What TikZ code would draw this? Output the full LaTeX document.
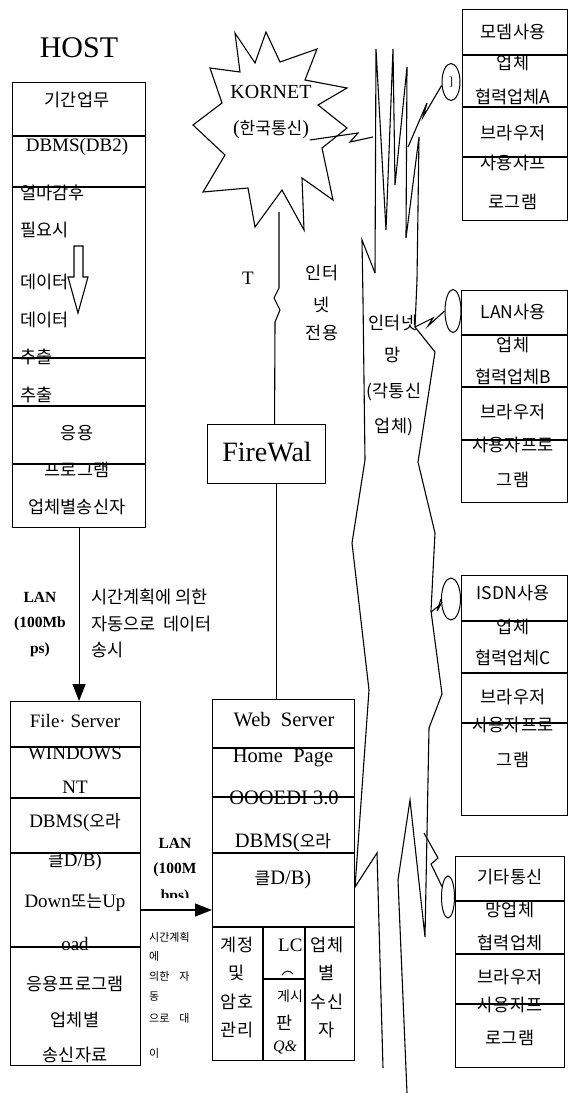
\documentclass[tikz,border=0pt]{standalone}
\usepackage{fontspec}
\setmainfont{Liberation Serif}
\newfontfamily\krf{Noto Sans CJK KR}
\newcommand\K[1]{{\krf\fontsize{17}{17}\selectfont #1}}
\usetikzlibrary{arrows.meta,shapes.geometric}
\begin{document}
\begin{tikzpicture}[x=1pt,y=-1pt,
  ln/.style={line width=1.1pt},
  bx/.style={draw,line width=1.1pt,inner sep=0pt,anchor=north west},
  kt/.style={inner sep=0pt,font=\fontsize{17.5}{17.5}\krf},
  lt/.style={inner sep=0pt,font=\fontsize{19}{19}\selectfont},
  wt/.style={inner sep=0pt,font=\fontsize{20.5}{20.5}\selectfont},
  bt/.style={inner sep=0pt,font=\fontsize{15.5}{15.5}\selectfont\bfseries},
  st/.style={inner sep=0pt,font=\fontsize{11}{11}\krf},
  el/.style={draw,line width=1pt,ellipse,inner sep=0pt},
  arr/.style={ln,-{Triangle[length=17pt,width=13pt]}}]
\useasboundingbox (0,0) rectangle (568,1093);

% ---------- HOST ----------
\node[inner sep=0pt,font=\fontsize{30}{30}\selectfont] (hosttitle) at (79,48) {HOST};
\node[bx,minimum width=133,minimum height=445] (host) at (12,82) {};
\foreach \yy in {136,187,358,406,464} \draw[ln] (12,\yy) -- (145,\yy);
\node[kt] (h1) at (77,100) {기간업무};
\node[lt] (h2) at (77,147) {DBMS(DB2)};
\node[kt,anchor=west] (h3) at (20,193) {얼마감후};
\node[kt,anchor=west] (h4) at (20,230) {필요시};
\node[kt,anchor=west] (h5) at (20,282) {데이터};
\node[kt,anchor=west] (h6) at (20,320) {데이터};
\node[kt,anchor=west] (h7) at (20,357) {추출};
\node[kt,anchor=west] (h8) at (20,395) {추출};
\node[kt] (h9) at (77,433) {응용};
\node[kt] (h10) at (77,470) {프로그램};
\node[kt] (h11) at (77,507) {업체별송신자};
\draw[ln,fill=white] (74,246) -- (83,246) -- (83,277) -- (88,277) -- (78,313) -- (68,277) -- (74,277) -- cycle;

% ---------- labels host -> file ----------
\node[bt] (l1) at (40,597) {LAN};
\node[bt] (l2) at (40,624) {(100Mb};
\node[bt] (l3) at (40,650) {ps)};
\node[kt,anchor=west] (l4) at (91,597) {시간계획에 의한};
\node[kt,anchor=west] (l5) at (91,624) {자동으로\ \ 데이터};
\node[kt,anchor=west] (l6) at (91,650) {송시};

% ---------- File Server ----------
\node[bx,minimum width=130,minimum height=364] (file) at (10,701) {};
\foreach \yy in {747,798,853,947} \draw[ln] (10,\yy) -- (140,\yy);
\node[lt] (f1) at (75,721) {File· Server};
\node[lt] (f2) at (75,753) {WINDOWS};
\node[lt] (f3) at (75,787) {NT};
\node[lt] (f4) at (75,822) {DBMS(\K{오라}};
\node[lt] (f5) at (75,862) {\K{클}D/B)};
\node[lt] (f6) at (75,903) {Down\K{또는}Up};
\node[lt] (f7) at (75,944) {oad};
\node[kt] (f8) at (75,984) {응용프로그램};
\node[kt] (f9) at (75,1020) {업체별};
\node[kt] (f10) at (75,1055) {송신자료};

\draw[arr] (host.south) -- (host.south |- file.north);

% ---------- labels file -> web ----------
\node[bt] (m1) at (175,843) {LAN};
\node[bt] (m2) at (175,870) {(100M};
\begin{scope}
\clip (150,880) rectangle (205,897);
\node[bt] (m3) at (175,897) {bps)};
\end{scope}
\node[st,anchor=west] (s1) at (149,937) {시간계획};
\node[st,anchor=west] (s2) at (149,956) {에};
\node[st,anchor=west] (s3) at (149,976) {의한\ \ \ \ 자};
\node[st,anchor=west] (s4) at (149,997) {동};
\node[st,anchor=west] (s5) at (149,1018) {으로\ \ \ \ 대};
\node[st,anchor=west] (s6) at (149,1053) {이};

% ---------- Web Server ----------
\node[bx,minimum width=142,minimum height=361] (web) at (212,699) {};
\foreach \yy in {748,797,853,927} \draw[ln] (212,\yy) -- (354,\yy);
\draw[ln] (263,927) -- (263,1060) (305,927) -- (305,1060) (263,979) -- (305,979);
\node[wt] (w1) at (284,720) {Web\ \ Server};
\node[wt] (w2) at (283,758) {Home\ \ Page};
\node[wt] (w3) at (284,798) {OOOEDI\ 3.0};
\node[wt] (w4) at (283,843) {DBMS(\K{오라}};
\node[wt] (w5) at (283,880) {\K{클}D/B)};
\node[kt] (w6) at (237,945) {계정};
\node[kt] (w7) at (237,973) {및};
\node[kt] (w8) at (237,1002) {암호};
\node[kt] (w9) at (237,1030) {관리};
\begin{scope}
\clip (263,927) rectangle (305,979);
\node[lt,anchor=west] (w10) at (278,945) {LC};
\end{scope}
\draw[line width=0.9pt] (282,975) .. controls (285,970) and (290,970) .. (293,974);
\begin{scope}
\clip (263,979) rectangle (305,1060);
\node[inner sep=0pt,font=\fontsize{14}{14}\krf,anchor=west] (w12) at (277,996) {게시};
\node[kt] (w13) at (285,1023) {판};
\node[inner sep=0pt,font=\fontsize{16}{16}\selectfont\itshape] (w14) at (285,1047) {Q\&};
\end{scope}
\node[kt] (w15) at (327,945) {업체};
\node[kt] (w16) at (327,973) {별};
\node[kt] (w17) at (327,1002) {수신};
\node[kt] (w18) at (327,1030) {자};

\coordinate (fa) at (140,910);
\draw[arr] (fa) -- (fa -| web.west);

% ---------- FireWall ----------
\node[bx,minimum width=118,minimum height=59] (fw) at (207,424) {};
\node[inner sep=0pt,font=\fontsize{28}{28}\selectfont] (fwt) at (267,452) {FireWal};
\draw[ln] ([xshift=10pt]fw.south) -- ([xshift=10pt]fw.south |- web.north);

% ---------- KORNET star ----------
\draw[ln,fill=white] (235,33) -- (255,63) -- (266,32) -- (280,62) -- (317,49) -- (305,80)
  -- (347,88) -- (318,105) -- (347,128) -- (322,148) -- (333,200) -- (302,178)
  -- (304,230) -- (282,190) -- (255,227) -- (248,188) -- (203,192) -- (225,155)
  -- (193,125) -- (222,103) -- (210,68) -- (240,72) -- cycle;
\node[inner sep=0pt,font=\fontsize{20}{20}\selectfont] (kornet) at (271,92) {KORNET};
\node[inner sep=0pt,font=\fontsize{20}{20}\selectfont] (kt2) at (271,130) {(\K{한국통신})};
\coordinate (kb) at (279,212);
\draw[ln] (kb) -- (279,288) -- (274,298) -- (280,310) -- (275,322) -- ([xshift=8pt]fw.north);
\node[inner sep=0pt,font=\fontsize{19}{19}\selectfont] (tlab) at (248,278) {T};
\node[kt] (i1) at (322,273) {인터};
\node[kt] (i2) at (322,305) {넷};
\node[kt] (i3) at (322,333) {전용};

% ---------- internet cloud ----------
\draw[ln] (375,273) -- (362,240) -- (363,300) -- (365,460) -- (352,543) -- (369,690)
  -- (355,887) -- (377,853) -- (383,1068);
\draw[ln] (375,273) -- (376,49) -- (386,230) -- (393,49) -- (395,185) -- (407,67)
  -- (406,238) -- (419,137) -- (417,280) -- (415,327) -- (435,352) -- (418,462)
  -- (435,533) -- (431,611) -- (442,694) -- (429,728) -- (425,937) -- (410,800) -- (398,880) -- (407,1093);
\coordinate (kc) at (373,137);
\draw[ln] ([xshift=-2pt]kornet.south east |- 0,140) -- (358,133) -- (350,142) -- (kc);
\node[kt] (c1) at (393,323) {인터넷};
\node[kt] (c2) at (393,355) {망};
\node[kt] (c3) at (394,392) {(각통신};
\node[kt] (c4) at (394,427) {업체)};

% ---------- partner boxes ----------
\node[bx,minimum width=105,minimum height=211] (ba) at (462,9) {};
\foreach \yy in {55,107,157} \draw[ln] (462,\yy) -- (567,\yy);
\node[kt] (a1) at (513,32) {모뎀사용};
\node[kt] (a2) at (513,63) {업체};
\node[kt] (a3) at (513,97) {협력업체A};
\node[kt] (a4) at (513,133) {브라우저};
\node[kt] (a5) at (513,163) {사용자프};
\node[kt] (a6) at (513,202) {로그램};
\node[el,minimum width=18,minimum height=37] (ea) at (451,82) {\fontsize{12}{12}\selectfont ]};

\node[bx,minimum width=106,minimum height=212] (bb) at (461,290) {};
\foreach \yy in {335,387,440} \draw[ln] (461,\yy) -- (567,\yy);
\node[kt] (b1) at (513,312) {LAN사용};
\node[kt] (b2) at (513,345) {업체};
\node[kt] (b3) at (513,377) {협력업체B};
\node[kt] (b4) at (513,412) {브라우저};
\node[kt] (b5) at (513,445) {사용자프로};
\node[kt] (b6) at (513,480) {그램};
\node[el,minimum width=16,minimum height=43] (eb) at (453,311) {};

\node[bx,minimum width=106,minimum height=240] (bc) at (461,575) {};
\foreach \yy in {621,673,723} \draw[ln] (461,\yy) -- (567,\yy);
\node[kt] (c1b) at (513,593) {ISDN사용};
\node[kt] (c2b) at (513,627) {업체};
\node[kt] (c3b) at (513,658) {협력업체C};
\node[kt] (c4b) at (513,697) {브라우저};
\node[kt] (c5b) at (513,725) {사용자프로};
\node[kt] (c6b) at (513,760) {그램};
\node[el,minimum width=19,minimum height=42] (ec) at (451,599) {};

\node[bx,minimum width=109,minimum height=211] (bd) at (455,856) {};
\foreach \yy in {901,954,1004} \draw[ln] (455,\yy) -- (564,\yy);
\node[kt] (d1) at (510,877) {기타통신};
\node[kt] (d2) at (510,910) {망업체};
\node[kt] (d3) at (510,943) {협력업체};
\node[kt] (d4) at (510,977) {브라우저};
\node[kt] (d5) at (510,1005) {사용자프};
\node[kt] (d6) at (510,1038) {로그램};
\node[el,minimum width=13,minimum height=42] (ed) at (448,897) {};

% ---------- lightning links ----------
\coordinate (la) at (408,147);
\draw[ln] (la) -- (427,103) -- (423,117) -- (ea.200);
\coordinate (lb) at (415,327);
\draw[ln] (lb) -- (433,318) -- (428,326) -- (eb.west);
\coordinate (lc) at (431,612);
\draw[ln] (lc) -- (441,604) -- (437,611) -- (ec.west);
\coordinate (ld) at (424,833);
\draw[ln] (ld) -- (438,858) -- (431,864) -- (ed.120);
\end{tikzpicture}
\end{document}
